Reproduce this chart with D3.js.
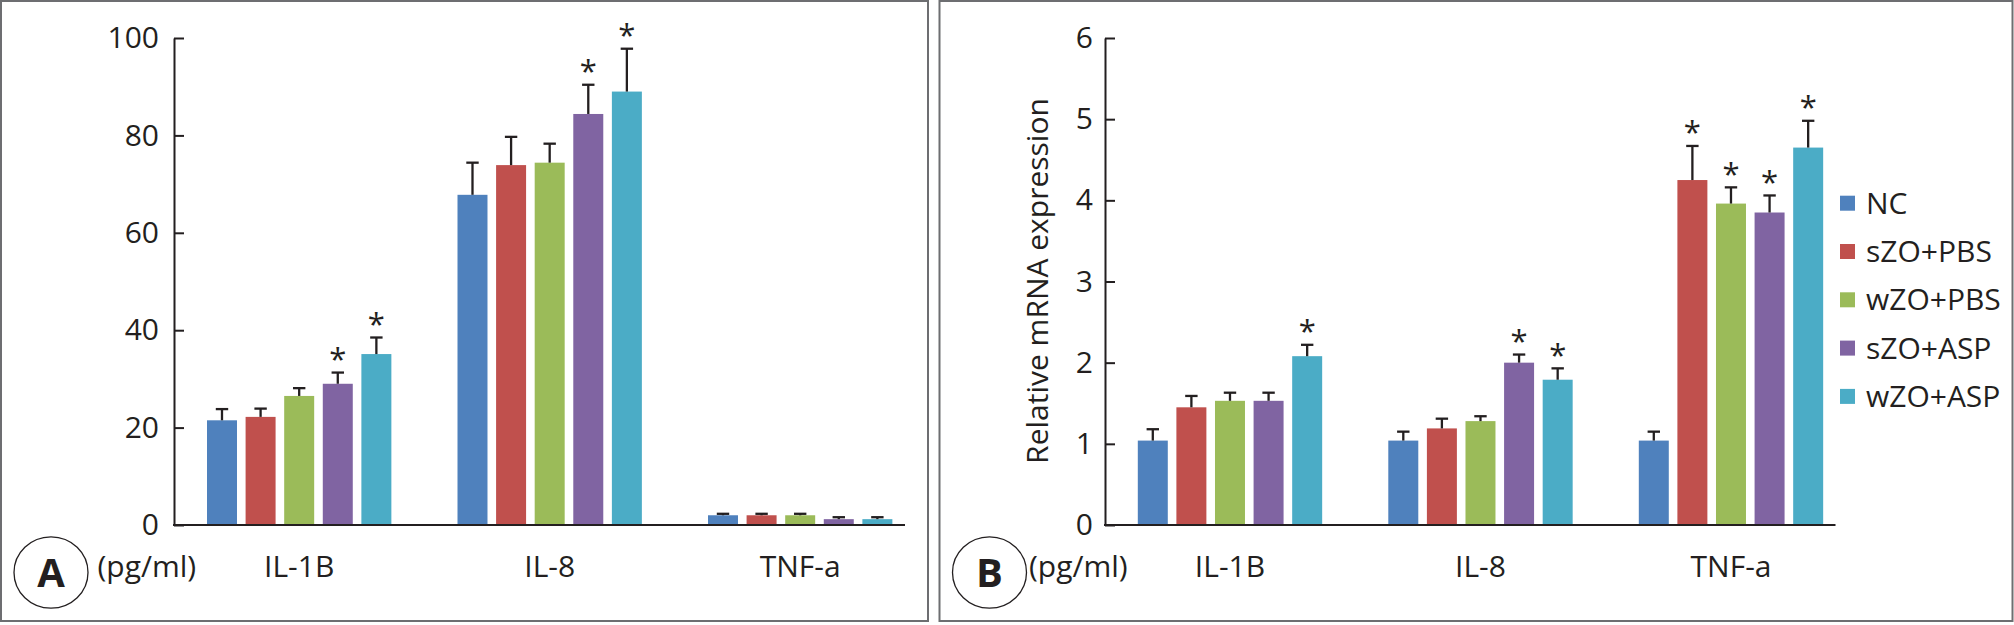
<!DOCTYPE html>
<html><head><meta charset="utf-8">
<script src="https://cdn.jsdelivr.net/npm/d3@7"></script>
<style>
body{margin:0;background:#fff}
svg{display:block}
text{font-family:'Open Sans',sans-serif;fill:#231f20}
</style>
</head><body>
<svg id="chart" width="2014" height="625"></svg>
<script>
// ---------- DATA ----------
const categories = ["IL-1B", "IL-8", "TNF-a"];
const seriesNames = ["NC", "sZO+PBS", "wZO+PBS", "sZO+ASP", "wZO+ASP"];
const seriesColors = ["#4f81bd", "#c0504d", "#9bbb59", "#8064a2", "#4bacc6"];

// Panel A: protein (pg/ml), mean per category [IL-1B, IL-8, TNF-a]
const proteinNC     = [21.5, 67.8, 2.0];
const proteinSZOPBS = [22.2, 73.9, 2.0];
const proteinWZOPBS = [26.5, 74.4, 2.0];
const proteinSZOASP = [29.0, 84.4, 1.2];
const proteinWZOASP = [35.1, 89.0, 1.2];
// Panel A error bars (SD)
const proteinErrNC     = [2.3, 6.6, 0.3];
const proteinErrSZOPBS = [1.7, 5.8, 0.3];
const proteinErrWZOPBS = [1.6, 3.9, 0.3];
const proteinErrSZOASP = [2.3, 6.0, 0.4];
const proteinErrWZOASP = [3.4, 8.8, 0.4];
// Panel A significance marks
const proteinStarNC     = [false, false, false];
const proteinStarSZOPBS = [false, false, false];
const proteinStarWZOPBS = [false, false, false];
const proteinStarSZOASP = [true, true, false];
const proteinStarWZOASP = [true, true, false];

// Panel B: relative mRNA expression
const mrnaNC     = [1.04, 1.04, 1.04];
const mrnaSZOPBS = [1.45, 1.19, 4.25];
const mrnaWZOPBS = [1.53, 1.28, 3.96];
const mrnaSZOASP = [1.53, 2.00, 3.85];
const mrnaWZOASP = [2.08, 1.79, 4.65];
const mrnaErrNC     = [0.14, 0.11, 0.11];
const mrnaErrSZOPBS = [0.14, 0.12, 0.42];
const mrnaErrWZOPBS = [0.10, 0.06, 0.20];
const mrnaErrSZOASP = [0.10, 0.10, 0.21];
const mrnaErrWZOASP = [0.14, 0.14, 0.33];
const mrnaStarNC     = [false, false, false];
const mrnaStarSZOPBS = [false, false, true];
const mrnaStarWZOPBS = [false, false, true];
const mrnaStarSZOASP = [false, true, true];
const mrnaStarWZOASP = [true, true, true];

const proteinTicks = [0, 20, 40, 60, 80, 100];
const mrnaTicks = [0, 1, 2, 3, 4, 5, 6];
const unitLabel = "(pg/ml)";
const mrnaAxisTitle = "Relative mRNA expression";

// ---------- BUILD TABLES ----------
function buildRows(means, errs, stars) {
  const rows = [];
  categories.forEach((c, ci) => {
    seriesNames.forEach((s, si) => {
      rows.push({cat: c, series: s, si: si, value: means[si][ci], err: errs[si][ci], star: stars[si][ci]});
    });
  });
  return rows;
}
const proteinRows = buildRows(
  [proteinNC, proteinSZOPBS, proteinWZOPBS, proteinSZOASP, proteinWZOASP],
  [proteinErrNC, proteinErrSZOPBS, proteinErrWZOPBS, proteinErrSZOASP, proteinErrWZOASP],
  [proteinStarNC, proteinStarSZOPBS, proteinStarWZOPBS, proteinStarSZOASP, proteinStarWZOASP]);
const mrnaRows = buildRows(
  [mrnaNC, mrnaSZOPBS, mrnaWZOPBS, mrnaSZOASP, mrnaWZOASP],
  [mrnaErrNC, mrnaErrSZOPBS, mrnaErrWZOPBS, mrnaErrSZOASP, mrnaErrWZOASP],
  [mrnaStarNC, mrnaStarSZOPBS, mrnaStarWZOPBS, mrnaStarSZOASP, mrnaStarWZOASP]);

// ---------- LAYOUT ----------
const svg = d3.select("#chart");
const ink = "#231f20";
const baseY = 525, topY = 38;

const panels = [
  {letter: "A", rows: proteinRows, ticks: proteinTicks, max: 100,
   boxX: 1, boxW: 927, axisX: 174, axisEnd: 905, bandStart: 207, labelPad: 15, title: null, legend: false},
  {letter: "B", rows: mrnaRows, ticks: mrnaTicks, max: 6,
   boxX: 939.5, boxW: 1073, axisX: 1105, axisEnd: 1835.5, bandStart: 1137.8, labelPad: 12, title: mrnaAxisTitle, legend: true}
];

panels.forEach(p => {
  const g = svg.append("g");
  // panel frame
  g.append("rect").attr("x", p.boxX).attr("y", 1).attr("width", p.boxW).attr("height", 620)
    .attr("fill", "none").attr("stroke", "#6d6e71").attr("stroke-width", 2);

  const y = d3.scaleLinear().domain([0, p.max]).range([baseY, topY]);
  const groupStep = 250.5, pin = 0.264;
  const x0 = d3.scaleBand().domain(categories)
    .range([p.bandStart, p.bandStart + groupStep * (categories.length - pin)])
    .paddingInner(pin).paddingOuter(0);
  const x1 = d3.scaleBand().domain(seriesNames).range([0, x0.bandwidth()]).paddingInner(0.223).paddingOuter(0);

  // y axis
  const yAxis = d3.axisLeft(y).tickValues(p.ticks).tickSizeInner(-10).tickSizeOuter(0).tickPadding(p.labelPad)
    .tickFormat(d3.format("d"));
  const ya = g.append("g").attr("transform", `translate(${p.axisX},0)`).call(yAxis);
  ya.select(".domain").attr("stroke", ink).attr("stroke-width", 2);
  ya.selectAll(".tick line").attr("stroke", ink).attr("stroke-width", 2);
  ya.selectAll(".tick text").attr("font-size", 30).attr("font-family", "'Open Sans',sans-serif").attr("fill", ink);

  // bars
  const bars = g.append("g");
  bars.selectAll("rect").data(p.rows).join("rect")
    .attr("x", d => x0(d.cat) + x1(d.series))
    .attr("y", d => y(d.value))
    .attr("width", x1.bandwidth())
    .attr("height", d => baseY - y(d.value))
    .attr("fill", d => seriesColors[d.si]);

  // x axis line
  g.append("line").attr("x1", p.axisX - 1).attr("x2", p.axisEnd).attr("y1", baseY).attr("y2", baseY)
    .attr("stroke", ink).attr("stroke-width", 2);

  // error bars
  const eb = g.append("g").attr("stroke", ink).attr("stroke-width", 2.3);
  p.rows.forEach(d => {
    const cx = x0(d.cat) + x1(d.series) + x1.bandwidth() / 2;
    eb.append("line").attr("x1", cx).attr("x2", cx).attr("y1", y(d.value)).attr("y2", y(d.value + d.err));
    eb.append("line").attr("x1", cx - 6.2).attr("x2", cx + 6.2).attr("y1", y(d.value + d.err)).attr("y2", y(d.value + d.err));
  });

  // significance stars
  g.append("g").selectAll("text").data(p.rows.filter(d => d.star)).join("text")
    .attr("x", d => x0(d.cat) + x1(d.series) + x1.bandwidth() / 2)
    .attr("y", d => y(d.value + d.err) - 2.5)
    .attr("text-anchor", "middle").attr("font-size", 31).text("*");

  // category labels
  const xa = d3.axisBottom(x0).tickSize(0).tickPadding(0);
  const xg = g.append("g").attr("transform", `translate(0,${baseY})`).call(xa);
  xg.select(".domain").remove();
  xg.selectAll(".tick text").attr("y", 51.5).attr("dy", 0).attr("font-size", 30)
    .attr("font-family", "'Open Sans',sans-serif").attr("fill", ink);

  // panel letter badge
  const cx = p.boxX + 50;
  g.append("ellipse").attr("cx", cx).attr("cy", 572.5).attr("rx", 37).attr("ry", 35.7)
    .attr("fill", "none").attr("stroke", ink).attr("stroke-width", 1.3);
  g.append("text").attr("x", cx).attr("y", 587).attr("text-anchor", "middle")
    .attr("font-size", 40).attr("font-weight", 700).text(p.letter);
  g.append("text").attr("x", p.letter === "A" ? 97.5 : p.boxX + 89.5).attr("y", 576.5)
    .attr("font-size", 30).text(unitLabel);

  // y title
  if (p.title) {
    g.append("text").attr("transform", `translate(1048,281) rotate(-90)`)
      .attr("text-anchor", "middle").attr("font-size", 30).text(p.title);
  }

  // legend
  if (p.legend) {
    const lg = g.append("g");
    seriesNames.forEach((s, i) => {
      const top = 195.7 + i * 48.3;
      lg.append("rect").attr("x", 1840).attr("y", top).attr("width", 15).attr("height", 15).attr("fill", seriesColors[i]);
      lg.append("text").attr("x", 1866).attr("y", top + 18).attr("font-size", 30).text(s);
    });
  }
});
</script>
</body></html>
